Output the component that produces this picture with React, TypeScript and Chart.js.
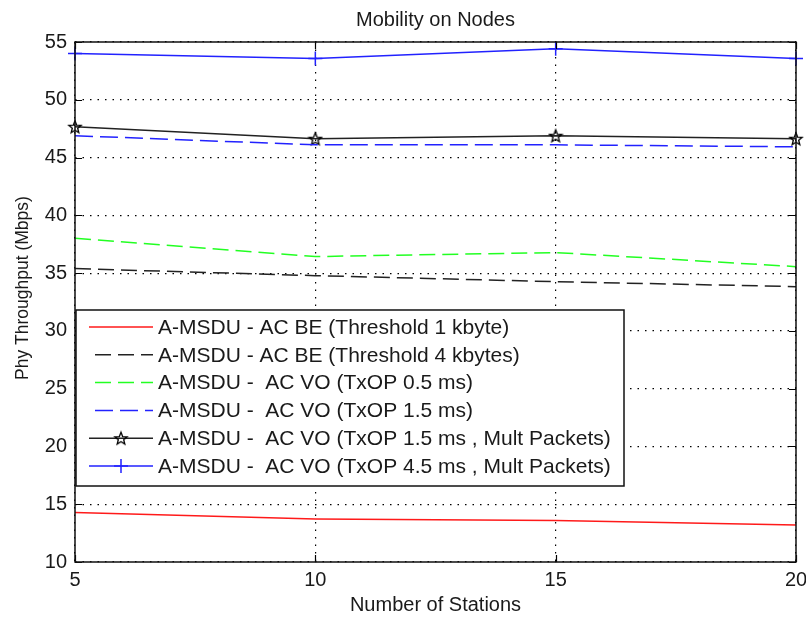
import React, { useEffect, useRef } from 'react';
import { Chart, registerables } from 'chart.js';

Chart.register(...registerables);

const FONT = '"Liberation Sans", Arial, Helvetica, sans-serif';
const TEXT = '#1a1a1a';

const stations = [5, 10, 15, 20];
const redBE1k = [14.28, 13.73, 13.59, 13.2];
const blackBE4k = [35.39, 34.78, 34.26, 33.83];
const greenVO05 = [38.02, 36.43, 36.78, 35.56];
const blueVO15 = [46.89, 46.1, 46.1, 45.93];
const blackVO15Mult = [47.67, 46.63, 46.89, 46.63];
const blueVO45Mult = [54.0, 53.57, 54.41, 53.57];

const seriesLabels = [
  'A-MSDU - AC BE (Threshold 1 kbyte)',
  'A-MSDU - AC BE (Threshold 4 kbytes)',
  'A-MSDU -  AC VO (TxOP 0.5 ms)',
  'A-MSDU -  AC VO (TxOP 1.5 ms)',
  'A-MSDU -  AC VO (TxOP 1.5 ms , Mult Packets)',
  'A-MSDU -  AC VO (TxOP 4.5 ms , Mult Packets)',
];

const chartTitle = 'Mobility on Nodes';
const xTitle = 'Number of Stations';
const yTitle = 'Phy Throughput (Mbps)';

function makeStar(): HTMLCanvasElement {
  const c = document.createElement('canvas');
  c.width = 16;
  c.height = 16;
  const ctx = c.getContext('2d')!;
  ctx.strokeStyle = '#000';
  ctx.lineWidth = 1.3;
  ctx.beginPath();
  for (let i = 0; i < 10; i++) {
    const r = i % 2 === 0 ? 6.5 : 2.8;
    const a = -Math.PI / 2 + (i * Math.PI) / 5;
    const x = 8 + r * Math.cos(a);
    const y = 8.6 + r * Math.sin(a);
    if (i === 0) ctx.moveTo(x, y);
    else ctx.lineTo(x, y);
  }
  ctx.closePath();
  ctx.stroke();
  return c;
}

const pts = (ys: number[]) => stations.map((x, i) => ({ x, y: ys[i] }));

const matlabPlugin = {
  id: 'matlabPlugin',
  afterDatasetsDraw(chart: any) {
    const ctx = chart.ctx as CanvasRenderingContext2D;
    const { left, right, top, bottom } = chart.chartArea;
    const xs = chart.scales.x;
    const ys = chart.scales.y;
    ctx.save();
    // inward ticks
    ctx.strokeStyle = '#000';
    ctx.lineWidth = 1.2;
    ctx.setLineDash([]);
    const tl = 7;
    ctx.beginPath();
    xs.ticks.forEach((t: any) => {
      const px = Math.round(xs.getPixelForValue(t.value)) + 0.5;
      ctx.moveTo(px, bottom);
      ctx.lineTo(px, bottom - tl);
      ctx.moveTo(px, top);
      ctx.lineTo(px, top + tl);
    });
    ys.ticks.forEach((t: any) => {
      const py = Math.round(ys.getPixelForValue(t.value)) + 0.5;
      ctx.moveTo(left, py);
      ctx.lineTo(left + tl, py);
      ctx.moveTo(right, py);
      ctx.lineTo(right - tl, py);
    });
    ctx.stroke();
    // box
    ctx.lineWidth = 1.5;
    ctx.strokeStyle = '#111';
    ctx.strokeRect(left, top, right - left, bottom - top);

    // legend
    const bx = 76, by = 310, bw = 548, bh = 176;
    ctx.fillStyle = '#fff';
    ctx.fillRect(bx, by, bw, bh);
    ctx.lineWidth = 1.5;
    ctx.strokeStyle = '#111';
    ctx.strokeRect(bx, by, bw, bh);
    const rowH = 27.8;
    chart.data.datasets.forEach((ds: any, i: number) => {
      const cy = by + 17 + i * rowH;
      const x0 = 89, x1 = 153;
      ctx.save();
      ctx.strokeStyle = ds.borderColor;
      ctx.lineWidth = ds.borderWidth;
      ctx.setLineDash(ds.borderDash || []);
      ctx.beginPath();
      if (ds.borderDash && ds.borderDash.length) {
        ctx.moveTo(x0 + 6, cy);
      } else {
        ctx.moveTo(x0, cy);
      }
      ctx.lineTo(x1, cy);
      ctx.stroke();
      ctx.setLineDash([]);
      const cx = (x0 + x1) / 2;
      if (ds.pointStyle instanceof HTMLCanvasElement) {
        const img = ds.pointStyle as HTMLCanvasElement;
        ctx.drawImage(img, cx - img.width / 2, cy - img.height / 2);
      } else if (ds.pointStyle === 'cross' && ds.pointRadius > 0) {
        ctx.strokeStyle = ds.pointBorderColor || ds.borderColor;
        ctx.lineWidth = 1.5;
        ctx.beginPath();
        ctx.moveTo(cx, cy - 7);
        ctx.lineTo(cx, cy + 7);
        ctx.moveTo(cx - 7, cy);
        ctx.lineTo(cx + 7, cy);
        ctx.stroke();
      }
      ctx.restore();
      ctx.fillStyle = TEXT;
      ctx.font = `21px ${FONT}`;
      ctx.textAlign = 'left';
      ctx.textBaseline = 'middle';
      ctx.fillText(ds.label, 158, cy + 1);
    });

    // title
    ctx.fillStyle = TEXT;
    ctx.font = `20px ${FONT}`;
    ctx.textAlign = 'center';
    ctx.textBaseline = 'middle';
    ctx.fillText(chartTitle, (left + right) / 2, 20);

    // x axis title
    ctx.fillText(xTitle, (left + right) / 2, 605);

    // y axis title
    ctx.save();
    ctx.translate(23, 288);
    ctx.rotate(-Math.PI / 2);
    ctx.font = `17.5px ${FONT}`;
    ctx.fillText(yTitle, 0, 0);
    ctx.restore();
    ctx.restore();
  },
};

export default function App() {
  const ref = useRef<HTMLCanvasElement | null>(null);

  useEffect(() => {
    document.body.style.margin = '0';
    const canvas = ref.current;
    if (!canvas) return;
    const star = makeStar();
    const common = {
      borderWidth: 1.5,
      fill: false,
      tension: 0,
      clip: false as any,
      pointRadius: 0,
      pointHoverRadius: 0,
    };
    const chart = new Chart(canvas, {
      type: 'line',
      data: {
        datasets: [
          { ...common, label: seriesLabels[0], data: pts(redBE1k), borderColor: '#ff1a1a', pointStyle: 'line' },
          { ...common, label: seriesLabels[1], data: pts(blackBE4k), borderColor: '#222', borderDash: [16, 7], pointStyle: 'line' },
          { ...common, label: seriesLabels[2], data: pts(greenVO05), borderColor: '#22ff22', borderDash: [16, 7], pointStyle: 'line' },
          { ...common, label: seriesLabels[3], data: pts(blueVO15), borderColor: '#2222ff', borderDash: [18, 7], pointStyle: 'line' },
          {
            ...common,
            label: seriesLabels[4],
            data: pts(blackVO15Mult),
            borderColor: '#222',
            pointStyle: star as any,
            pointRadius: 7,
            pointBorderColor: '#000',
            pointBackgroundColor: 'rgba(0,0,0,0)',
          },
          {
            ...common,
            label: seriesLabels[5],
            data: pts(blueVO45Mult),
            borderColor: '#2222ff',
            pointStyle: 'cross',
            pointRadius: 7,
            pointBorderWidth: 1.5,
            pointBorderColor: '#2222ff',
          },
        ] as any,
      },
      options: {
        responsive: false,
        animation: false,
        events: [],
        layout: { padding: { left: 0, right: 10, top: 42, bottom: 0 } },
        plugins: {
          legend: { display: false },
          title: { display: false },
          tooltip: { enabled: false },
        },
        scales: {
          x: {
            type: 'linear',
            min: 5,
            max: 20,
            afterFit: (s: any) => {
              s.height = 55;
              s.paddingRight = 0;
              s.paddingLeft = 0;
            },
            ticks: {
              stepSize: 5,
              font: { family: FONT, size: 20 },
              color: TEXT,
              padding: 6,
              maxRotation: 0,
            },
            grid: { color: '#000', lineWidth: 1.2, drawTicks: false },
            border: { display: false, dash: [1.5, 6] },
          },
          y: {
            type: 'linear',
            min: 10,
            max: 55,
            afterFit: (s: any) => {
              s.width = 75;
              s.paddingTop = 0;
              s.paddingBottom = 0;
            },
            ticks: {
              stepSize: 5,
              font: { family: FONT, size: 20 },
              color: TEXT,
              padding: 8,
            },
            grid: { color: '#000', lineWidth: 1.2, drawTicks: false },
            border: { display: false, dash: [1.5, 6] },
          },
        },
      } as any,
      plugins: [matlabPlugin],
    });
    return () => chart.destroy();
  }, []);

  return <canvas ref={ref} width={806} height={617} style={{ display: 'block' }} />;
}
